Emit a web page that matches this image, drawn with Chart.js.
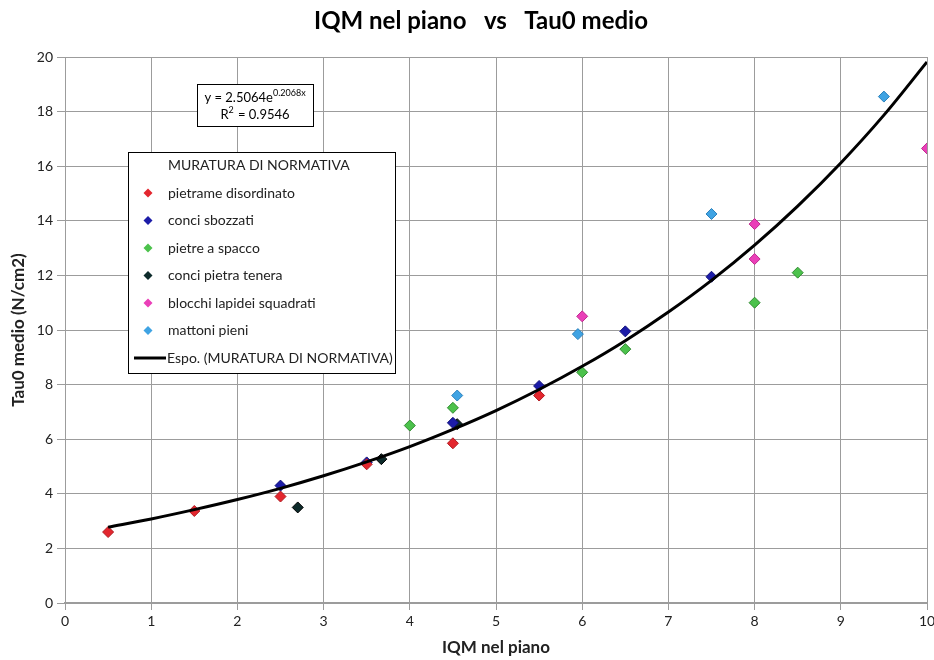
<!DOCTYPE html>
<html>
<head>
<meta charset="utf-8">
<script src="https://cdn.jsdelivr.net/npm/chart.js@4.4.0/dist/chart.umd.min.js"></script>
<style>
    html, body { margin: 0; padding: 0; background: #fff; }
    #wrap { width: 934px; height: 660px; }
</style>
</head>
<body>
<div id="wrap"><canvas id="graph"></canvas></div>
<script>
// Data ----------------------------------------------------------------
let pietrameX = [0.5, 1.5, 2.5, 3.5, 4.5, 5.5];
let pietrameY = [2.6, 3.37, 3.9, 5.08, 5.85, 7.6];

let sbozzatiX = [2.5, 3.5, 4.5, 5.5, 6.5, 7.5];
let sbozzatiY = [4.3, 5.15, 6.6, 7.95, 9.95, 11.95];

let spaccoX = [4.0, 4.5, 6.0, 6.5, 8.0, 8.5];
let spaccoY = [6.5, 7.15, 8.45, 9.3, 11.0, 12.1];

let teneraX = [2.7, 3.67, 4.55];
let teneraY = [3.5, 5.27, 6.55];

let blocchiX = [6.0, 8.0, 8.0, 10.0];
let blocchiY = [10.5, 13.88, 12.6, 16.65];

let mattoniX = [4.55, 5.95, 7.5, 9.5];
let mattoniY = [7.6, 9.85, 14.25, 18.55];

// Exponential trend line (y = 2.5064e^0.2068x)
let trendX = [0.5, 1, 1.5, 2, 2.5, 3, 3.5, 4, 4.5, 5, 5.5, 6, 6.5, 7, 7.5, 8, 8.5, 9, 9.5, 10];
let trendY = [2.78, 3.08, 3.42, 3.79, 4.20, 4.66, 5.17, 5.73, 6.36, 7.05, 7.82, 8.67, 9.61, 10.66, 11.82, 13.11, 14.54, 16.12, 17.87, 19.82];

let chartTitle = "IQM nel piano   vs   Tau0 medio";
let xTitle = "IQM nel piano";
let yTitle = "Tau0 medio (N/cm2)";
let legendTitle = "MURATURA DI NORMATIVA";
let trendLabel = "Espo. (MURATURA DI NORMATIVA)";

const FONT = "Lato, 'Open Sans', sans-serif";

// Turn two lists into {x, y} points
function pts(xs, ys) {
    return xs.map(function (x, i) { return { x: x, y: ys[i] }; });
}

function series(label, xs, ys, fill, border) {
    return {
        label: label,
        data: pts(xs, ys),
        pointStyle: 'rectRot',
        pointRadius: 5.5,
        pointHoverRadius: 6,
        backgroundColor: fill,
        borderColor: border,
        borderWidth: 1,
        showLine: false
    };
}

let datasets = [
    {
        label: trendLabel,
        type: 'line',
        data: pts(trendX, trendY),
        borderColor: '#000',
        borderWidth: 3,
        pointRadius: 0,
        cubicInterpolationMode: 'monotone',
        fill: false,
        order: 0
    },
    series("pietrame disordinato", pietrameX, pietrameY, '#e3262e', '#b01a20'),
    series("conci sbozzati", sbozzatiX, sbozzatiY, '#1c1ca8', '#10107a'),
    series("pietre a spacco", spaccoX, spaccoY, '#4cc24c', '#2f8a2f'),
    series("conci pietra tenera", teneraX, teneraY, '#0d2b2b', '#000'),
    series("blocchi lapidei squadrati", blocchiX, blocchiY, '#ea3fb8', '#c02a90'),
    series("mattoni pieni", mattoniX, mattoniY, '#3fa3e3', '#2a80bb')
];

// Title, equation box and legend box drawn on the canvas
let boxes = {
    id: 'boxes',
    afterDraw: function (chart) {
        let ctx = chart.ctx;
        ctx.save();

        // Main title
        ctx.fillStyle = '#000';
        ctx.font = "bold 24px " + FONT;
        ctx.textAlign = 'center';
        ctx.textBaseline = 'middle';
        ctx.fillText(chartTitle, 481, 21);

        // Equation box
        ctx.fillStyle = '#fff';
        ctx.fillRect(197, 84, 116, 42);
        ctx.strokeStyle = '#000';
        ctx.lineWidth = 1;
        ctx.strokeRect(197.5, 84.5, 116, 42);

        ctx.fillStyle = '#000';
        ctx.textAlign = 'left';
        ctx.font = "13px " + FONT;
        let base = "y = 2.5064e";
        let wBase = ctx.measureText(base).width;
        ctx.font = "9px " + FONT;
        let exp = "0.2068x";
        let wExp = ctx.measureText(exp).width;
        let startX = 255 - (wBase + wExp) / 2;
        ctx.font = "13px " + FONT;
        ctx.fillText(base, startX, 98);
        ctx.font = "9px " + FONT;
        ctx.fillText(exp, startX + wBase, 93);

        ctx.font = "13px " + FONT;
        let r1 = "R";
        let r2 = " = 0.9546";
        let w1 = ctx.measureText(r1).width;
        let w2 = ctx.measureText(r2).width;
        let sx = 255 - (w1 + 6 + w2) / 2;
        ctx.fillText(r1, sx, 115);
        ctx.font = "9px " + FONT;
        ctx.fillText("2", sx + w1, 110);
        ctx.font = "13px " + FONT;
        ctx.fillText(r2, sx + w1 + 6, 115);

        // Legend box
        ctx.fillStyle = '#fff';
        ctx.fillRect(128, 152, 267, 221);
        ctx.strokeStyle = '#000';
        ctx.strokeRect(128.5, 152.5, 267, 221);

        ctx.fillStyle = '#222';
        ctx.font = "14px " + FONT;
        ctx.fillText(legendTitle, 168, 165);

        let rowY = 193;
        for (let i = 1; i < chart.data.datasets.length; i++) {
            let ds = chart.data.datasets[i];
            ctx.fillStyle = ds.backgroundColor;
            ctx.beginPath();
            ctx.moveTo(148, rowY - 4.5);
            ctx.lineTo(152.5, rowY);
            ctx.lineTo(148, rowY + 4.5);
            ctx.lineTo(143.5, rowY);
            ctx.closePath();
            ctx.fill();
            ctx.fillStyle = '#222';
            ctx.fillText(ds.label, 168, rowY);
            rowY += 27.5;
        }
        ctx.strokeStyle = '#000';
        ctx.lineWidth = 3;
        ctx.beginPath();
        ctx.moveTo(134, rowY);
        ctx.lineTo(166, rowY);
        ctx.stroke();
        ctx.fillStyle = '#222';
        ctx.fillText(chart.data.datasets[0].label, 167, rowY);

        ctx.restore();
    }
};

let canvas = document.getElementById('graph').getContext("2d");

let chart = new Chart(canvas, {
    type: 'scatter',
    data: { datasets: datasets },
    options: {
        responsive: true,
        maintainAspectRatio: false,
        animation: false,
        layout: { padding: { top: 57, right: 7, left: 0, bottom: 0 } },
        plugins: {
            legend: { display: false },
            title: { display: false },
            tooltip: { enabled: false }
        },
        scales: {
            x: {
                type: 'linear',
                min: 0,
                max: 10,
                ticks: {
                    stepSize: 1,
                    color: '#222',
                    font: { family: FONT, size: 14 },
                    padding: 3
                },
                grid: { color: '#9c9c9c', lineWidth: 1, tickLength: 7 },
                border: { color: '#9c9c9c', width: 2 },
                title: {
                    display: true,
                    text: xTitle,
                    color: '#222',
                    font: { family: FONT, size: 17, weight: 'bold' },
                    padding: { top: 0, bottom: 2 }
                },
                afterFit: function (scale) {
                    scale.height = 57;
                    scale.paddingRight = 2;
                }
            },
            y: {
                type: 'linear',
                min: 0,
                max: 20,
                ticks: {
                    stepSize: 2,
                    color: '#222',
                    font: { family: FONT, size: 14 },
                    padding: 4
                },
                grid: { color: '#9c9c9c', lineWidth: 1, tickLength: 8 },
                border: { color: '#9c9c9c', width: 1 },
                title: {
                    display: true,
                    text: yTitle,
                    color: '#222',
                    font: { family: FONT, size: 17, weight: 'bold' },
                    padding: { top: 8, bottom: 0 }
                },
                afterFit: function (scale) { scale.width = 65; }
            }
        }
    },
    plugins: [boxes]
});
</script>
</body>
</html>
